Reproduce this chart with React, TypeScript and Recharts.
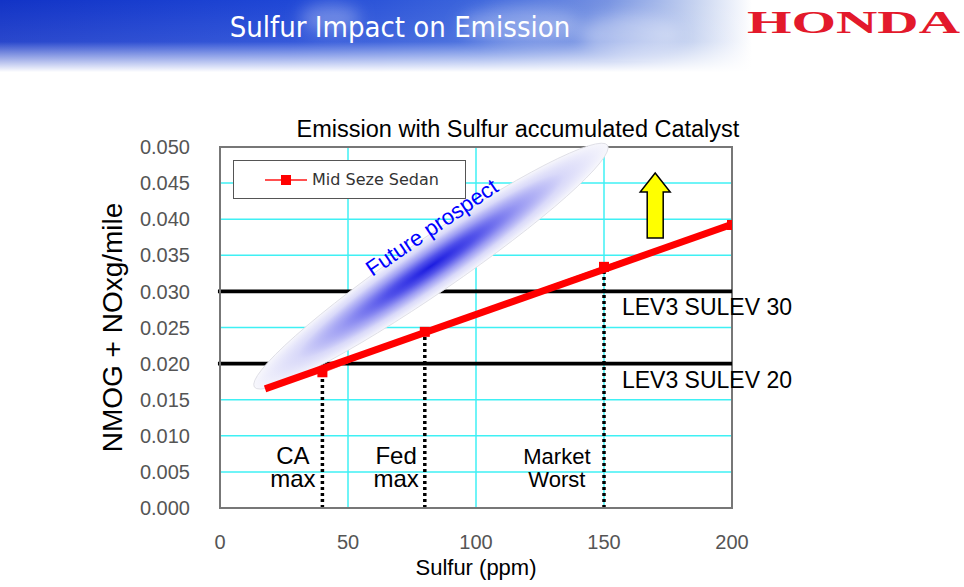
import React from 'react'
import {
  LineChart,
  Line,
  XAxis,
  YAxis,
  CartesianGrid,
  ReferenceLine,
  ReferenceDot,
  ReferenceArea,
} from 'recharts'

// measured points (Mid Seze Sedan)
const sulfurPpm = [40, 80, 150, 200]
const emission = [0.0188, 0.0244, 0.0334, 0.0392]

// thick red trend line
const trendPpm = [17.6, 200]
const trendEmission = [0.0165, 0.0393]

const xTicks = [0, 50, 100, 150, 200]
const yTicks = [0, 0.005, 0.01, 0.015, 0.02, 0.025, 0.03, 0.035, 0.04, 0.045, 0.05]

const standards = [
  { name: 'LEV3 SULEV 30', value: 0.03 },
  { name: 'LEV3 SULEV 20', value: 0.02 },
]

// fuel sulfur caps: where they sit and their two-line captions
const capPpm = [40, 80, 150]
const capLines = [
  ['CA', 'max'],
  ['Fed', 'max'],
  ['Market', 'Worst'],
]
const capTextPpm = [28.5, 68.8, 131.6]

const seriesData = sulfurPpm.map((s, i) => ({ s, v: emission[i] }))
const trendData = trendPpm.map((s, i) => ({ s, v: trendEmission[i] }))

const FONT = "'Liberation Sans', Arial, sans-serif"

function Header() {
  return (
    <svg width={964} height={80} style={{ position: 'absolute', left: 0, top: 0 }}>
      <defs>
        <linearGradient id="sky" x1="0" y1="0" x2="1" y2="0">
          <stop offset="0" stopColor="#1233c6" />
          <stop offset="0.3" stopColor="#1f47d6" />
          <stop offset="0.5" stopColor="#3d66dc" />
          <stop offset="0.63" stopColor="#7793e2" />
          <stop offset="0.72" stopColor="#c5d2f0" />
          <stop offset="0.78" stopColor="#ffffff" />
        </linearGradient>
        <linearGradient id="fade" x1="0" y1="0" x2="0" y2="1">
          <stop offset="0" stopColor="#fff" stopOpacity={0} />
          <stop offset="0.55" stopColor="#fff" stopOpacity={0.1} />
          <stop offset="0.95" stopColor="#fff" stopOpacity={1} />
        </linearGradient>
        <filter id="blur">
          <feGaussianBlur stdDeviation="8" />
        </filter>
      </defs>
      <rect x={0} y={0} width={964} height={75} fill="url(#sky)" />
      <g filter="url(#blur)" fill="#fff">
        <ellipse cx={330} cy={18} rx={30} ry={14} opacity={0.3} />
        <ellipse cx={520} cy={25} rx={60} ry={18} opacity={0.3} />
        <ellipse cx={630} cy={35} rx={50} ry={20} opacity={0.35} />
      </g>
      <rect x={0} y={0} width={964} height={76} fill="url(#fade)" />
      <text
        x={400}
        y={37}
        textAnchor="middle"
        fill="#fff"
        fontSize={29}
        fontFamily="'Liberation Sans Narrow', 'DejaVu Sans Condensed', sans-serif"
      >
        Sulfur Impact on Emission
      </text>
      <text
        x={747}
        y={33}
        textLength={213}
        lengthAdjust="spacingAndGlyphs"
        fill="#e3192b"
        fontSize={32}
        fontWeight="bold"
        fontFamily="'Liberation Serif', serif"
      >
        HONDA
      </text>
    </svg>
  )
}

function LegendBox() {
  return (
    <div
      style={{
        position: 'absolute',
        left: 233,
        top: 160,
        width: 231,
        height: 37,
        border: '1px solid #555',
        background: '#fff',
        display: 'flex',
        alignItems: 'center',
      }}
    >
      <svg width={78} height={37}>
        <line x1={31} y1={19} x2={73} y2={19} stroke="#ff5050" strokeWidth={2} />
        <rect x={47} y={14} width={10} height={10} fill="#ff0000" />
      </svg>
      <span style={{ fontFamily: "'DejaVu Sans', sans-serif", fontSize: 16, color: '#333' }}>
        Mid Seze Sedan
      </span>
    </div>
  )
}

const ellipseShape = (p: any) => {
  const cx = p.x + p.width / 2
  const cy = p.y + p.height / 2
  return (
    <g>
      <defs>
        <radialGradient id="fp" cx="0.5" cy="0.5" r="0.5">
          <stop offset="0" stopColor="#1c1ce0" />
          <stop offset="0.25" stopColor="#5252ea" />
          <stop offset="0.5" stopColor="#9c9cf3" />
          <stop offset="0.75" stopColor="#d9d9f9" />
          <stop offset="1" stopColor="#f7f7fc" />
        </radialGradient>
      </defs>
      <ellipse
        cx={cx}
        cy={cy}
        rx={214}
        ry={27}
        fill="url(#fp)"
        stroke="#dcdce4"
        strokeWidth={0.8}
        transform={`rotate(-34.4 ${cx} ${cy})`}
      />
    </g>
  )
}

const prospectText = (p: any) => (
  <text
    x={p.cx}
    y={p.cy}
    textAnchor="middle"
    fill="#0000ff"
    fontSize={22}
    fontFamily={FONT}
    transform={`rotate(-34.2 ${p.cx} ${p.cy})`}
  >
    Future prospect
  </text>
)

const arrowShape = (p: any) => {
  const { cx, cy } = p
  const pts = [
    [0, 0],
    [15, 19],
    [8, 19],
    [8, 65],
    [-8, 65],
    [-8, 19],
    [-15, 19],
  ]
    .map(([dx, dy]) => `${cx + dx},${cy + dy}`)
    .join(' ')
  return <polygon points={pts} fill="#ffff00" stroke="#000" strokeWidth={1.5} />
}

const textShape = (lines: string[], anchor: string, size: number) => (p: any) => (
  <text x={p.cx} y={p.cy} textAnchor={anchor} fontSize={size} fontFamily={FONT} fill="#000">
    {lines.map((l, i) => (
      <tspan key={l} x={p.cx} dy={i === 0 ? 0 : 23}>
        {l}
      </tspan>
    ))}
  </text>
)

export default function App() {
  return (
    <div
      style={{
        position: 'absolute',
        left: 0,
        top: 0,
        width: 964,
        height: 587,
        background: '#fff',
        overflow: 'hidden',
      }}
    >
      <Header />
      <div
        style={{
          position: 'absolute',
          left: 0,
          top: 116,
          width: 1036,
          textAlign: 'center',
          fontFamily: FONT,
          fontSize: 23.5,
          color: '#000',
        }}
      >
        Emission with Sulfur accumulated Catalyst
      </div>
      <div style={{ position: 'absolute', left: 0, top: 0 }}>
        <LineChart
          width={964}
          height={587}
          margin={{ top: 147, right: 232, bottom: 4, left: 4 }}
        >
          <CartesianGrid stroke="#3ff0f4" strokeWidth={1.5} />
          <XAxis
            type="number"
            dataKey="s"
            domain={[0, 200]}
            ticks={xTicks}
            allowDataOverflow
            height={75}
            tickLine={false}
            tickMargin={21}
            axisLine={{ stroke: '#777', strokeWidth: 2 }}
            tick={{ fontSize: 20, fill: '#555', fontFamily: FONT }}
            label={{
              value: 'Sulfur (ppm)',
              position: 'insideBottom',
              offset: 8,
              fontSize: 22,
              fill: '#000',
              fontFamily: FONT,
            }}
          />
          <YAxis
            type="number"
            dataKey="v"
            domain={[0, 0.05]}
            ticks={yTicks}
            width={216}
            tickLine={false}
            tickMargin={24}
            tickFormatter={(v: number) => v.toFixed(3)}
            axisLine={{ stroke: '#777', strokeWidth: 2 }}
            tick={{ fontSize: 20, fill: '#555', fontFamily: FONT }}
            label={{
              value: 'NMOG + NOxg/mile',
              angle: -90,
              position: 'center',
              fontSize: 28,
              fill: '#000',
              fontFamily: FONT,
            }}
          />
          <ReferenceArea x1={0} x2={200} y1={0} y2={0.05} fill="none" stroke="#777" strokeWidth={2} />
          {standards.map((st) => (
            <ReferenceArea
              key={st.name}
              x1={-0.8}
              x2={200}
              y1={st.value - 0.00025}
              y2={st.value + 0.00025}
              ifOverflow="visible"
              fill="#000"
              fillOpacity={1}
              stroke="none"
            />
          ))}
          <ReferenceArea
            x1={80}
            x2={84.8}
            y1={0.033}
            y2={0.034}
            ifOverflow="visible"
            shape={ellipseShape}
          />
          <ReferenceDot x={84.4} y={0.038} r={0} ifOverflow="visible" shape={prospectText} />
          <ReferenceDot x={170} y={0.0464} r={0} ifOverflow="visible" shape={arrowShape} />
          {capPpm.map((c, i) => (
            <ReferenceLine
              key={c}
              segment={[
                { x: c, y: 0 },
                { x: c, y: emission[i] },
              ]}
              stroke="#000"
              strokeWidth={3.5}
              strokeDasharray="3 3"
            />
          ))}
          {capLines.map((lines, i) => (
            <ReferenceDot
              key={lines[0]}
              x={capTextPpm[i]}
              y={0.0061}
              r={0}
              ifOverflow="visible"
              shape={textShape(lines, 'middle', i === 2 ? 22 : 24)}
            />
          ))}
          <ReferenceDot x={157} y={0.0267} r={0} ifOverflow="visible" shape={textShape([standards[0].name], 'start', 23)} />
          <ReferenceDot x={157} y={0.0166} r={0} ifOverflow="visible" shape={textShape([standards[1].name], 'start', 23)} />
          <Line
            data={seriesData}
            dataKey="v"
            stroke="#ff5a5a"
            strokeWidth={2}
            dot={(p: any) => (
              <rect key={p.index} x={p.cx - 5} y={p.cy - 5} width={10} height={10} fill="#ff0000" />
            )}
            isAnimationActive={false}
          />
          <Line
            data={trendData}
            dataKey="v"
            stroke="#ff0000"
            strokeWidth={7}
            dot={false}
            isAnimationActive={false}
          />
        </LineChart>
      </div>
      <LegendBox />
    </div>
  )
}
